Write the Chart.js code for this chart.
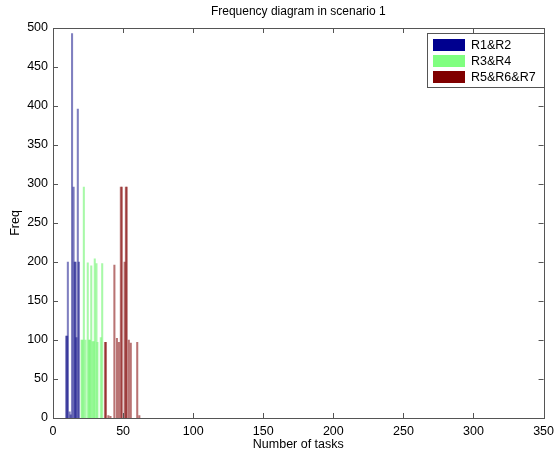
<!DOCTYPE html>
<html>
<head>
<meta charset="utf-8">
<script src="https://cdn.jsdelivr.net/npm/chart.js@4/dist/chart.umd.min.js"></script>
<style>
  html, body { margin: 0; padding: 0; background: #fff; }
  #wrap { width: 560px; height: 456px; }
</style>
</head>
<body>
<div id="wrap"><canvas id="freq-chart"></canvas></div>
<script>
// valores (número de tarefas -> frequência)
const seriesNames = ['R1&R2', 'R3&R4', 'R5&R6&R7'];

const r12Tasks = [9.4, 10.1, 10.6, 11.9, 12.6, 13.6, 14.7, 15.5, 16.1, 16.7, 17.7, 18.5];
const r12Freq  = [105, 105, 200, 8, 4, 493, 296, 200, 200, 103, 396, 200];

const r34Tasks = [20.4, 21.1, 22.0, 23.2, 24.8, 25.7, 26.4, 27.3, 28.2, 29.1, 29.8, 31.0, 31.7, 34.1, 35.1];
const r34Freq  = [100, 100, 296, 100, 199, 100, 100, 195, 98, 98, 204, 198, 97, 103, 198];

const r567Tasks = [37.1, 37.8, 39.5, 41.0, 43.8, 45.6, 47.0, 48.4, 49.1, 51.1, 52.0, 52.6, 54.1, 55.5, 60.1, 61.6];
const r567Freq  = [97, 97, 3, 2, 196, 102, 97, 296, 296, 200, 296, 296, 100, 96, 97, 3];

const xTicks = [0, 50, 100, 150, 200, 250, 300, 350];
const yTicks = [0, 50, 100, 150, 200, 250, 300, 350, 400, 450, 500];

const titulo = 'Frequency diagram in scenario 1';
const legendColors = ['#00008f', '#80ff80', '#800000'];
const barColors = ['rgba(0,0,130,0.5)', 'rgba(110,245,110,0.6)', 'rgba(128,0,0,0.55)'];

function pares(xs, ys) {
    return xs.map((x, i) => ({ x: x, y: ys[i] }));
}

const familia = "'Liberation Sans', Arial, sans-serif";
const fonte = { family: familia, size: 12.5 };

// caixa, marcas internas estilo MATLAB, título e legenda
const caixaPlugin = {
    id: 'caixa',
    afterDraw(chart) {
        const ctx = chart.ctx;
        const a = chart.chartArea;
        const xs = chart.scales.x;
        const ys = chart.scales.y;
        ctx.save();
        ctx.strokeStyle = '#555';
        ctx.lineWidth = 1;
        ctx.strokeRect(Math.round(a.left) + 0.5, Math.round(a.top) + 0.5,
            Math.round(a.right - a.left), Math.round(a.bottom - a.top));
        ctx.beginPath();
        xTicks.forEach(v => {
            const px = Math.round(xs.getPixelForValue(v)) + 0.5;
            ctx.moveTo(px, a.bottom); ctx.lineTo(px, a.bottom - 5);
            ctx.moveTo(px, a.top); ctx.lineTo(px, a.top + 5);
        });
        yTicks.forEach(v => {
            const py = Math.round(ys.getPixelForValue(v)) + 0.5;
            ctx.moveTo(a.left, py); ctx.lineTo(a.left + 5, py);
            ctx.moveTo(a.right, py); ctx.lineTo(a.right - 5, py);
        });
        ctx.stroke();

        // título centrado sobre a área do gráfico
        ctx.fillStyle = '#000';
        ctx.font = '12px ' + familia;
        ctx.textAlign = 'center';
        ctx.textBaseline = 'middle';
        ctx.fillText(titulo, (a.left + a.right) / 2, 12);

        // legenda
        const lx = 427, ly = 33, lw = 117, lh = 54;
        ctx.fillStyle = '#fff';
        ctx.fillRect(lx, ly, lw, lh);
        ctx.strokeStyle = '#555';
        ctx.strokeRect(lx + 0.5, ly + 0.5, lw, lh);
        ctx.font = '12.5px ' + familia;
        ctx.textAlign = 'left';
        seriesNames.forEach((nome, i) => {
            const cy = ly + 12 + i * 16;
            ctx.fillStyle = legendColors[i];
            ctx.fillRect(lx + 6, cy - 6, 32, 12);
            ctx.fillStyle = '#000';
            ctx.fillText(nome, lx + 44, cy + 1);
        });
        ctx.restore();
    }
};

const ctx = document.getElementById('freq-chart').getContext('2d');
const chart = new Chart(ctx, {
    type: 'bar',
    data: {
        datasets: [
            { label: seriesNames[0], data: pares(r12Tasks, r12Freq), backgroundColor: barColors[0] },
            { label: seriesNames[1], data: pares(r34Tasks, r34Freq), backgroundColor: barColors[1] },
            { label: seriesNames[2], data: pares(r567Tasks, r567Freq), backgroundColor: barColors[2] }
        ]
    },
    options: {
        responsive: true,
        maintainAspectRatio: false,
        animation: false,
        layout: { padding: { left: 0, right: 14, top: 28, bottom: 0 } },
        datasets: { bar: { grouped: false, barThickness: 1.4, borderWidth: 0 } },
        plugins: {
            legend: { display: false },
            tooltip: { enabled: false },
            title: { display: false }
        },
        scales: {
            x: {
                type: 'linear',
                min: 0,
                max: 350,
                offset: false,
                grid: { display: false, drawTicks: false },
                border: { display: false },
                ticks: { stepSize: 50, color: '#000', font: fonte, padding: 6, maxRotation: 0 },
                title: { display: true, text: 'Number of tasks', color: '#000', font: fonte, padding: { top: 0, bottom: 4 } },
                afterFit: s => { s.height = 38; }
            },
            y: {
                min: 0,
                max: 500,
                grid: { display: false, drawTicks: false },
                border: { display: false },
                ticks: { stepSize: 50, color: '#000', font: fonte, padding: 5 },
                title: { display: true, text: 'Freq', color: '#000', font: fonte, padding: { top: 8, bottom: 0 } },
                afterFit: s => { s.width = 53; }
            }
        }
    },
    plugins: [caixaPlugin]
});
</script>
</body>
</html>
